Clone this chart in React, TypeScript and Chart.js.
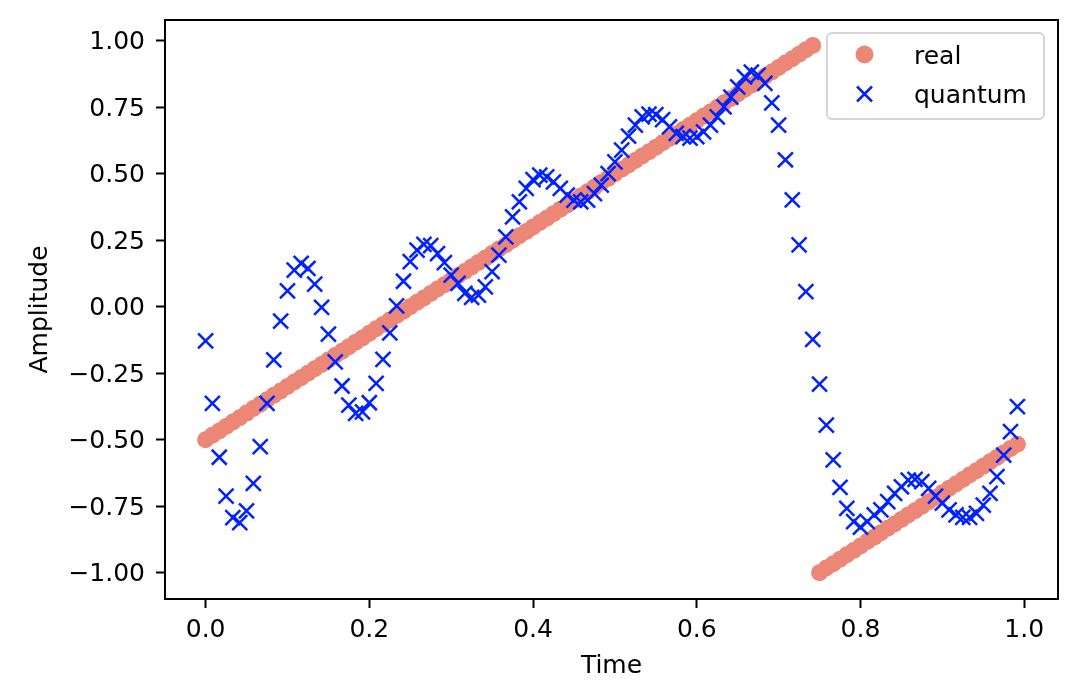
import { useEffect, useRef } from 'react';
import { Chart, registerables } from 'chart.js';

Chart.register(...registerables);

// sample times (120 samples over [0, 1))
const times = [
  0, 0.0083, 0.0167, 0.025, 0.0333, 0.0417, 0.05, 0.0583, 0.0667, 0.075,
  0.0833, 0.0917, 0.1, 0.1083, 0.1167, 0.125, 0.1333, 0.1417, 0.15, 0.1583,
  0.1667, 0.175, 0.1833, 0.1917, 0.2, 0.2083, 0.2167, 0.225, 0.2333, 0.2417,
  0.25, 0.2583, 0.2667, 0.275, 0.2833, 0.2917, 0.3, 0.3083, 0.3167, 0.325,
  0.3333, 0.3417, 0.35, 0.3583, 0.3667, 0.375, 0.3833, 0.3917, 0.4, 0.4083,
  0.4167, 0.425, 0.4333, 0.4417, 0.45, 0.4583, 0.4667, 0.475, 0.4833, 0.4917,
  0.5, 0.5083, 0.5167, 0.525, 0.5333, 0.5417, 0.55, 0.5583, 0.5667, 0.575,
  0.5833, 0.5917, 0.6, 0.6083, 0.6167, 0.625, 0.6333, 0.6417, 0.65, 0.6583,
  0.6667, 0.675, 0.6833, 0.6917, 0.7, 0.7083, 0.7167, 0.725, 0.7333, 0.7417,
  0.75, 0.7583, 0.7667, 0.775, 0.7833, 0.7917, 0.8, 0.8083, 0.8167, 0.825,
  0.8333, 0.8417, 0.85, 0.8583, 0.8667, 0.875, 0.8833, 0.8917, 0.9, 0.9083,
  0.9167, 0.925, 0.9333, 0.9417, 0.95, 0.9583, 0.9667, 0.975, 0.9833, 0.9917,
];

const realValues = [
  -0.5, -0.483, -0.467, -0.45, -0.433, -0.417, -0.4, -0.383, -0.367, -0.35,
  -0.333, -0.317, -0.3, -0.283, -0.267, -0.25, -0.233, -0.217, -0.2, -0.183,
  -0.167, -0.15, -0.133, -0.117, -0.1, -0.083, -0.067, -0.05, -0.033, -0.017,
  0, 0.017, 0.033, 0.05, 0.067, 0.083, 0.1, 0.117, 0.133, 0.15,
  0.167, 0.183, 0.2, 0.217, 0.233, 0.25, 0.267, 0.283, 0.3, 0.317,
  0.333, 0.35, 0.367, 0.383, 0.4, 0.417, 0.433, 0.45, 0.467, 0.483,
  0.5, 0.517, 0.533, 0.55, 0.567, 0.583, 0.6, 0.617, 0.633, 0.65,
  0.667, 0.683, 0.7, 0.717, 0.733, 0.75, 0.767, 0.783, 0.8, 0.817,
  0.833, 0.85, 0.867, 0.883, 0.9, 0.917, 0.933, 0.95, 0.967, 0.983,
  -1, -0.983, -0.967, -0.95, -0.933, -0.917, -0.9, -0.883, -0.867, -0.85,
  -0.833, -0.817, -0.8, -0.783, -0.767, -0.75, -0.733, -0.717, -0.7, -0.683,
  -0.667, -0.65, -0.633, -0.617, -0.6, -0.583, -0.567, -0.55, -0.533, -0.517,
];

const quantumValues = [
  -0.128, -0.363, -0.566, -0.712, -0.793, -0.812, -0.768, -0.664, -0.526, -0.363,
  -0.2, -0.054, 0.06, 0.138, 0.163, 0.144, 0.085, -0.002, -0.103, -0.207,
  -0.298, -0.37, -0.401, -0.395, -0.361, -0.288, -0.198, -0.098, 0.003, 0.096,
  0.17, 0.213, 0.235, 0.23, 0.2, 0.166, 0.119, 0.088, 0.05, 0.035,
  0.044, 0.075, 0.132, 0.194, 0.263, 0.338, 0.395, 0.445, 0.478, 0.495,
  0.489, 0.47, 0.445, 0.42, 0.401, 0.395, 0.401, 0.426, 0.458, 0.501,
  0.545, 0.589, 0.642, 0.683, 0.714, 0.725, 0.723, 0.704, 0.677, 0.652,
  0.64, 0.634, 0.64, 0.658, 0.683, 0.714, 0.752, 0.789, 0.827, 0.865,
  0.883, 0.871, 0.84, 0.767, 0.683, 0.553, 0.402, 0.233, 0.057, -0.123,
  -0.291, -0.445, -0.576, -0.679, -0.758, -0.808, -0.829, -0.808, -0.783, -0.764,
  -0.733, -0.702, -0.677, -0.652, -0.649, -0.658, -0.683, -0.712, -0.739, -0.764,
  -0.783, -0.792, -0.792, -0.777, -0.746, -0.702, -0.639, -0.558, -0.47, -0.376,
];

const xTicks = [0, 0.2, 0.4, 0.6, 0.8, 1.0];
const yTicks = [-1, -0.75, -0.5, -0.25, 0, 0.25, 0.5, 0.75, 1];
const seriesLabels = ['real', 'quantum'];

const REAL_COLOR = '#ec8777';
const QUANTUM_COLOR = '#0022ff';
const FONT = "'DejaVu Sans', sans-serif";
const FONT_SIZE = 25;

const fmtY = (v: number) => (v < 0 ? '\u2212' : '') + Math.abs(v).toFixed(2);

// axes box drawn over the data like matplotlib spines
const framePlugin = {
  id: 'frame',
  afterDatasetsDraw(chart: Chart) {
    const { ctx, chartArea: a } = chart;
    ctx.save();
    ctx.strokeStyle = '#000';
    ctx.lineWidth = 2;
    ctx.strokeRect(a.left, a.top, a.right - a.left, a.bottom - a.top);
    ctx.restore();
  },
};

// legend inside the upper right corner
const insetLegend = {
  id: 'insetLegend',
  afterDraw(chart: Chart) {
    const { ctx, chartArea: a } = chart;
    const w = 217;
    const h = 86;
    const x = a.right - 14 - w;
    const y = a.top + 13;
    ctx.save();
    ctx.beginPath();
    ctx.roundRect(x, y, w, h, 5);
    ctx.fillStyle = 'rgba(255,255,255,0.8)';
    ctx.fill();
    ctx.strokeStyle = '#d6d6d6';
    ctx.lineWidth = 2;
    ctx.stroke();

    const mx = x + 37.5;
    const tx = x + 87;

    ctx.beginPath();
    ctx.arc(mx, y + 21.5, 9, 0, Math.PI * 2);
    ctx.fillStyle = REAL_COLOR;
    ctx.fill();

    const cy = y + 61;
    const s = 7.5;
    ctx.beginPath();
    ctx.moveTo(mx - s, cy - s);
    ctx.lineTo(mx + s, cy + s);
    ctx.moveTo(mx + s, cy - s);
    ctx.lineTo(mx - s, cy + s);
    ctx.strokeStyle = QUANTUM_COLOR;
    ctx.lineWidth = 2.5;
    ctx.stroke();

    ctx.fillStyle = '#000';
    ctx.font = `${FONT_SIZE}px ${FONT}`;
    ctx.textAlign = 'left';
    ctx.textBaseline = 'alphabetic';
    ctx.fillText(seriesLabels[0], tx, y + 30.5);
    ctx.fillText(seriesLabels[1], tx, y + 70);
    ctx.restore();
  },
};

export default function App() {
  const chartRef = useRef<HTMLCanvasElement>(null);
  const chartInstance = useRef<Chart | null>(null);

  useEffect(() => {
    if (!chartRef.current) return;
    if (chartInstance.current) chartInstance.current.destroy();
    const ctx = chartRef.current.getContext('2d');
    if (!ctx) return;

    Chart.defaults.font.family = FONT;
    Chart.defaults.color = '#000';

    const tickGrid = {
      display: true,
      drawOnChartArea: false,
      drawTicks: true,
      tickLength: 9,
      tickWidth: 2,
      tickColor: '#000',
      color: '#000',
    };

    chartInstance.current = new Chart(ctx, {
      type: 'scatter',
      data: {
        datasets: [
          {
            label: seriesLabels[0],
            data: times.map((t, i) => ({ x: t, y: realValues[i] })),
            pointStyle: 'circle',
            pointRadius: 8.5,
            backgroundColor: REAL_COLOR,
            borderColor: REAL_COLOR,
            borderWidth: 0,
            order: 1,
          },
          {
            label: seriesLabels[1],
            data: times.map((t, i) => ({ x: t, y: quantumValues[i] })),
            pointStyle: 'crossRot',
            pointRadius: 10.6,
            backgroundColor: QUANTUM_COLOR,
            borderColor: QUANTUM_COLOR,
            borderWidth: 2.5,
            order: 0,
          },
        ],
      },
      options: {
        animation: false,
        responsive: true,
        maintainAspectRatio: false,
        events: [],
        layout: { padding: { left: 0, top: 20, right: 16, bottom: 0 } },
        plugins: {
          legend: { display: false },
          tooltip: { enabled: false },
        },
        scales: {
          x: {
            type: 'linear',
            min: -0.0496,
            max: 1.0413,
            afterBuildTicks: (axis: any) => {
              axis.ticks = xTicks.map((value) => ({ value }));
            },
            afterFit: (axis: any) => {
              axis.height = 91;
              axis.paddingLeft = 0;
              axis.paddingRight = 0;
            },
            grid: tickGrid,
            border: { display: false },
            ticks: {
              padding: 7,
              autoSkip: false,
              maxRotation: 0,
              color: '#000',
              font: { size: FONT_SIZE, family: FONT },
              callback: (v: any) => Number(v).toFixed(1),
            },
            title: {
              display: true,
              text: 'Time',
              color: '#000',
              font: { size: FONT_SIZE, family: FONT },
              padding: { top: 0, bottom: 9 },
            },
          },
          y: {
            type: 'linear',
            min: -1.0992,
            max: 1.0787,
            afterBuildTicks: (axis: any) => {
              axis.ticks = yTicks.map((value) => ({ value }));
            },
            afterFit: (axis: any) => {
              axis.width = 165;
              axis.paddingTop = 0;
              axis.paddingBottom = 0;
            },
            grid: tickGrid,
            border: { display: false },
            ticks: {
              padding: 11,
              labelOffset: 2,
              autoSkip: false,
              color: '#000',
              font: { size: FONT_SIZE, family: FONT },
              callback: (v: any) => fmtY(Number(v)),
            },
            title: {
              display: true,
              text: 'Amplitude',
              color: '#000',
              font: { size: FONT_SIZE, family: FONT },
              padding: { top: 25, bottom: 0 },
            },
          },
        },
      },
      plugins: [framePlugin, insetLegend],
    });

    return () => {
      if (chartInstance.current) {
        chartInstance.current.destroy();
        chartInstance.current = null;
      }
    };
  }, []);

  return (
    <div
      style={{
        position: 'absolute',
        left: 0,
        top: 0,
        width: 1074,
        height: 690,
        background: '#fff',
      }}
    >
      <canvas ref={chartRef} />
    </div>
  );
}
